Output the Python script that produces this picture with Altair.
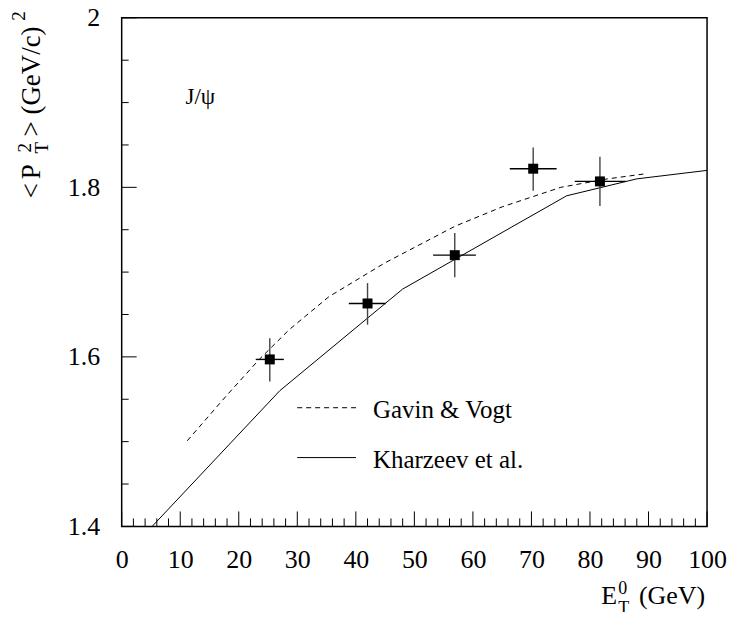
import altair as alt
import pandas as pd

# Data points (J/psi <pT^2> vs E_T^0)
et = [25.3, 42.0, 56.9, 70.3, 81.7]
pt2 = [1.597, 1.663, 1.720, 1.822, 1.807]
et_lo = [22.9, 38.8, 53.2, 66.3, 77.4]
et_hi = [27.7, 45.1, 60.5, 74.3, 86.1]
pt2_lo = [1.571, 1.638, 1.694, 1.796, 1.778]
pt2_hi = [1.622, 1.687, 1.746, 1.847, 1.836]

# Gavin & Vogt (dashed)
gv_et = [11.2, 18.0, 23.5, 28.6, 35.4, 45.0, 56.9, 65.0, 75.0, 83.0, 89.5]
gv_pt2 = [1.501, 1.555, 1.597, 1.632, 1.671, 1.711, 1.754, 1.777, 1.800, 1.810, 1.816]

# Kharzeev et al. (solid)
kh_et = [5.2, 27.0, 48.0, 76.0, 88.0, 100.0]
kh_pt2 = [1.40, 1.56, 1.68, 1.79, 1.81, 1.82]

# Axis ticks
x_major = [0, 10, 20, 30, 40, 50, 60, 70, 80, 90, 100]
x_minor = [2, 4, 6, 8, 12, 14, 16, 18, 22, 24, 26, 28, 32, 34, 36, 38, 42, 44, 46, 48,
           52, 54, 56, 58, 62, 64, 66, 68, 72, 74, 76, 78, 82, 84, 86, 88, 92, 94, 96, 98]
y_major = [1.4, 1.6, 1.8, 2.0]
y_minor = [1.45, 1.5, 1.55, 1.65, 1.7, 1.75, 1.85, 1.9, 1.95]

FONT = "Liberation Serif"
W, H = 587, 510

xs = alt.Scale(domain=[0, 100], nice=False, zero=False)
ys = alt.Scale(domain=[1.4, 2.0], nice=False, zero=False)
xaxis = alt.Axis(values=x_major, ticks=False, domain=False, grid=False, title=None,
                 labelFont=FONT, labelFontSize=26, labelColor="black", labelPadding=20,
                 labelOverlap=False, labelFlush=False)
yaxis = alt.Axis(values=y_major, ticks=False, domain=False, grid=False, title=None,
                 labelFont=FONT, labelFontSize=26, labelColor="black", labelPadding=22,
                 labelOverlap=False, labelFlush=False,
                 labelExpr="datum.value == 2 ? '2' : format(datum.value, '.1f')")


def X(f):
    return alt.X(f, type="quantitative", scale=xs, axis=xaxis)


def Y(f):
    return alt.Y(f, type="quantitative", scale=ys, axis=yaxis)


pts = pd.DataFrame({"et": et, "pt2": pt2, "xlo": et_lo, "xhi": et_hi,
                    "ylo": pt2_lo, "yhi": pt2_hi})
gv = pd.DataFrame({"et": gv_et, "pt2": gv_pt2})
kh = pd.DataFrame({"et": kh_et, "pt2": kh_pt2})

layers = []

# ticks drawn inside the frame
xmaj = pd.DataFrame({"v": x_major})
xmin = pd.DataFrame({"v": x_minor})
ymaj = pd.DataFrame({"v": y_major})
ymin = pd.DataFrame({"v": y_minor})
layers.append(alt.Chart(xmaj).mark_rule(color="black", strokeWidth=1).encode(
    x=X("v"), y=alt.value(H), y2=alt.value(H - 15)))
layers.append(alt.Chart(xmin).mark_rule(color="black", strokeWidth=1).encode(
    x=X("v"), y=alt.value(H), y2=alt.value(H - 8)))
layers.append(alt.Chart(ymaj).mark_rule(color="black", strokeWidth=1).encode(
    y=Y("v"), x=alt.value(0), x2=alt.value(15)))
layers.append(alt.Chart(ymin).mark_rule(color="black", strokeWidth=1).encode(
    y=Y("v"), x=alt.value(0), x2=alt.value(7)))

# model curves
layers.append(alt.Chart(gv).mark_line(color="black", strokeWidth=1, strokeDash=[5, 4]).encode(
    x=X("et"), y=Y("pt2")))
layers.append(alt.Chart(kh).mark_line(color="black", strokeWidth=1).encode(
    x=X("et"), y=Y("pt2")))

# error bars and markers
layers.append(alt.Chart(pts).mark_rule(color="black", strokeWidth=1.4).encode(
    x=X("xlo"), x2="xhi", y=Y("pt2")))
layers.append(alt.Chart(pts).mark_rule(color="#444", strokeWidth=1.4).encode(
    x=X("et"), y=Y("ylo"), y2="yhi"))
layers.append(alt.Chart(pts).mark_point(shape="square", filled=True, size=100,
                                        color="black", opacity=1).encode(
    x=X("et"), y=Y("pt2")))

one = pd.DataFrame({"k": [0]})


def txt(s, x, y, size, angle=None, align="left", baseline="alphabetic"):
    kw = dict(text=s, font=FONT, fontSize=size, color="black", align=align, baseline=baseline)
    if angle is not None:
        kw["angle"] = angle
    return alt.Chart(one).mark_text(**kw).encode(x=alt.value(x), y=alt.value(y))


# legend
layers.append(alt.Chart(one).mark_rule(color="black", strokeWidth=1, strokeDash=[5, 4]).encode(
    x=alt.value(176), x2=alt.value(235), y=alt.value(391)))
layers.append(txt("Gavin & Vogt", 252, 401, 25))
layers.append(alt.Chart(one).mark_rule(color="black", strokeWidth=1).encode(
    x=alt.value(176), x2=alt.value(235), y=alt.value(441)))
layers.append(txt("Kharzeev et al.", 252, 451, 25))

# J/psi label
layers.append(txt("J/ψ", 64, 86, 23))

# y-axis title <P_T^2> (GeV/c)^2
layers.append(txt("<", -82, 181, 27, angle=270))
layers.append(txt("P", -82, 162, 27, angle=270))
layers.append(txt("T", -74, 136, 19, angle=270))
layers.append(txt("2", -91, 135, 19, angle=270))
layers.append(txt("> (GeV/c)", -82, 119, 27, angle=270))
layers.append(txt("2", -97, 3, 19, angle=270))

# x-axis title E_T^0 (GeV)
layers.append(txt("E", 481, 588, 26))
layers.append(txt("T", 498, 598, 18))
layers.append(txt("0", 498, 578, 18))
layers.append(txt("(GeV)", 585, 588, 26, align="right"))

chart = alt.layer(*layers).properties(
    width=W, height=H,
    padding={"left": 114, "top": 9, "right": 20, "bottom": 85},
    autosize=alt.AutoSizeParams(type="none"),
).configure_view(stroke="black", strokeWidth=1.5)

chart.save("out.html", embed_options={"renderer": "svg", "actions": False})
